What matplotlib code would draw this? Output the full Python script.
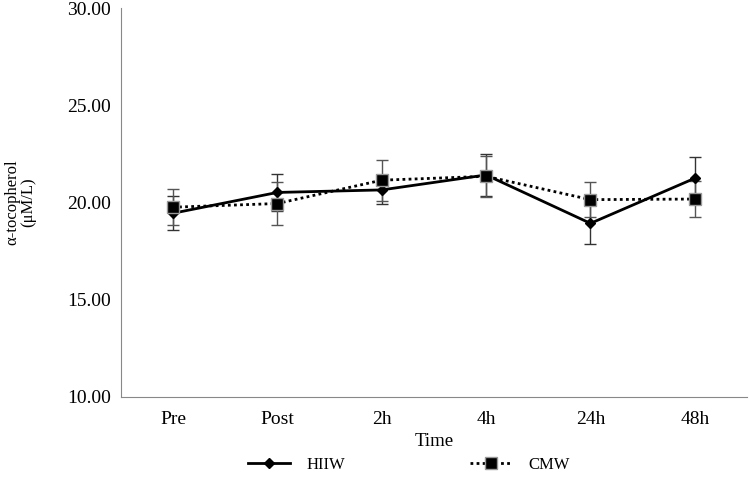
import matplotlib.pyplot as plt
import numpy as np
from matplotlib.lines import Line2D

times = ["Pre", "Post", "2h", "4h", "24h", "48h"]
hiiw = [19.45, 20.52, 20.65, 21.42, 18.93, 21.25]
hiiw_err = [0.88, 0.94, 0.75, 1.10, 1.08, 1.10]
cmw = [19.76, 19.95, 21.15, 21.35, 20.15, 20.18]
cmw_err = [0.93, 1.10, 1.05, 1.05, 0.89, 0.91]

plt.rcParams["font.family"] = ["Liberation Serif", "DejaVu Serif"]

fig = plt.figure(figsize=(7.5, 4.78), dpi=100)
ax = fig.add_axes([0.161, 0.1695, 0.835, 0.8135])

x = np.arange(len(times))
cmw_ls = (0, (1, 1.2))
ax.errorbar(x, hiiw, yerr=hiiw_err, color="black", marker="D", markersize=5,
            linewidth=2, ecolor="#333333", elinewidth=1, capsize=4, capthick=1,
            zorder=3)
ax.errorbar(x, cmw, yerr=cmw_err, color="black", marker="s", markersize=8,
            markeredgecolor="#999999", markeredgewidth=1,
            linewidth=2, linestyle=cmw_ls, ecolor="#555555",
            elinewidth=1, capsize=4, capthick=1, zorder=3)

ax.set_xlim(-0.5, 5.5)
ax.set_ylim(10, 30)
ax.set_yticks([10, 15, 20, 25, 30])
ax.set_yticklabels([f"{v:.2f}" for v in [10, 15, 20, 25, 30]])
ax.set_xticks(x)
ax.set_xticklabels(times)
ax.tick_params(length=0, labelsize=14)
ax.tick_params(axis="x", pad=10)
ax.tick_params(axis="y", pad=7)
for side in ["top", "right"]:
    ax.spines[side].set_visible(False)
for side in ["left", "bottom"]:
    ax.spines[side].set_color("#888888")

ax.set_xlabel("Time", fontsize=13.5, labelpad=4)
ax.set_ylabel("α-tocopherol\n(μM/L)", fontsize=12, linespacing=1.0)
ax.yaxis.set_label_coords(-0.135, 0.5)

handles = [
    Line2D([], [], color="black", marker="D", markersize=5, linewidth=2),
    Line2D([], [], color="black", marker="s", markersize=8, markeredgecolor="#999999",
           linewidth=2, linestyle=cmw_ls),
]
ax.legend(handles, ["HIIW", "CMW"], loc="center", bbox_to_anchor=(0.46, -0.175),
          ncol=2, frameon=False, fontsize=12, handlelength=2.5, columnspacing=7.5,
          handletextpad=1.0)

fig.savefig("out.png", dpi=100)
